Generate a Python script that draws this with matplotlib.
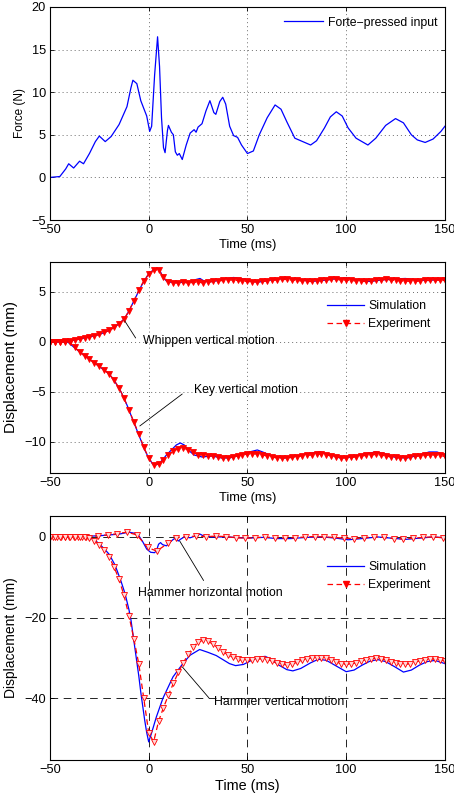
import numpy as np
import matplotlib
matplotlib.use("Agg")
import matplotlib.pyplot as plt

plt.rcParams['font.family'] = ['Liberation Sans', 'DejaVu Sans']
plt.rcParams['lines.scale_dashes'] = False

# ---- panel 1: input force ----
force_t = [-50, -45, -42, -40.5, -38, -35, -33, -30, -27, -25, -22, -19, -15, -11, -9, -8, -6, -4, -1,
           0.5, 1.5, 3, 4.5, 5.5, 6.5, 7.5, 8.3, 9.5, 10, 11.5, 12.5, 13.5, 14.5, 15.5, 17, 19, 21, 23,
           24, 25, 27, 29, 31, 33, 34, 36, 37.5, 39, 41, 43, 45, 47, 50, 53, 56, 60, 64, 67, 70, 74,
           78, 82, 85, 89, 92, 95, 98, 101, 105, 111, 115, 120, 125, 129, 133, 136, 140, 144, 148, 150]
force_val = [0, 0.1, 1.0, 1.6, 1.1, 1.9, 1.6, 2.8, 4.2, 4.85, 4.2, 4.8, 6.2, 8.3, 10.5, 11.4, 11.0, 9.0, 7.2,
             5.4, 6.0, 12, 16.5, 13, 7, 3.5, 2.9, 5.5, 6.1, 5.3, 5.0, 3, 2.6, 2.8, 2.1, 3.8, 5.2, 5.6,
             5.3, 5.9, 6.3, 7.8, 9.0, 7.6, 7.4, 8.9, 9.4, 8.6, 6.0, 4.9, 4.7, 3.8, 2.8, 3.1, 5.0, 7.0, 8.5, 8.0, 6.5, 4.6,
             4.2, 3.8, 4.3, 5.8, 7.1, 7.7, 7.2, 5.8, 4.6, 3.8, 4.6, 6.1, 6.9, 6.4, 5.0, 4.4, 4.1, 4.5, 5.4, 6.0]

# experiment sampling times (ms)
t_exp = np.arange(-50, 150.1, 2.5)

# ---- panel 2: whippen / key ----
whip_sim_t = [-50, -40, -30, -25, -20, -15, -12, -10, -8, -6, -4, -2, 0, 2, 4, 5, 6, 7, 8, 9, 10, 13, 16, 19,
              22, 24, 26, 28, 30, 34, 38, 43, 48, 52, 56, 62, 70, 76, 82, 88, 94, 100, 106, 112, 118, 124,
              130, 136, 142, 146, 150]
whip_sim = [0, 0.1, 0.5, 0.75, 1.15, 1.8, 2.4, 3.1, 3.9, 4.7, 5.5, 6.2, 6.8, 7.15, 7.35, 7.3, 7.0, 6.6, 6.3, 6.1,
            6.0, 5.95, 5.95, 6.0, 6.05, 6.25, 6.35, 6.1, 6.0, 6.1, 6.3, 6.45, 6.3, 6.05, 6.0, 6.2, 6.4, 6.25, 6.05,
            6.15, 6.3, 6.4, 6.2, 6.05, 6.2, 6.3, 6.35, 6.2, 6.15, 6.25, 6.3]
whip_exp = [0, 0, 0, 0.05, 0.1, 0.2, 0.3, 0.4, 0.5, 0.6,
            0.75, 0.95, 1.15, 1.45, 1.8, 2.3, 3.1, 4.1, 5.2, 6.1,
            6.8, 7.2, 7.2, 6.5, 6.0, 5.9, 5.9, 5.95, 5.9, 5.95,
            6.0, 5.9, 5.95, 6.05, 6.1, 6.15, 6.2, 6.2, 6.15, 6.1,
            6.05, 6.0, 6.0, 6.05, 6.1, 6.15, 6.2, 6.25, 6.25, 6.2,
            6.15, 6.1, 6.05, 6.05, 6.1, 6.15, 6.2, 6.25, 6.25, 6.2,
            6.2, 6.15, 6.1, 6.05, 6.05, 6.1, 6.15, 6.2, 6.25, 6.2,
            6.15, 6.1, 6.1, 6.05, 6.05, 6.1, 6.15, 6.15, 6.2, 6.15,
            6.15]

key_sim_t = [-50, -41, -38, -33, -28, -24, -20, -17, -14, -11, -8, -5, -2, 0, 2, 3.5, 5, 7, 9, 12, 14, 16, 18,
             20, 23, 27, 32, 37, 41, 46, 51, 55, 59, 63, 69, 75, 81, 87, 92, 97, 103, 109, 115, 120, 125, 131,
             137, 142, 146, 150]
key_sim = [0, 0, -0.5, -1.3, -2.0, -2.6, -3.2, -4.0, -5.0, -6.3, -7.8, -9.3, -10.8, -11.6, -12.2, -12.3, -12.2,
           -11.8, -11.3, -10.7, -10.3, -10.1, -10.3, -10.8, -11.3, -11.5, -11.4, -11.6, -11.6, -11.3, -11.0,
           -10.8, -11.1, -11.5, -11.6, -11.4, -11.15, -11.0, -11.3, -11.6, -11.5, -11.2, -11.0, -11.2, -11.55,
           -11.6, -11.3, -11.0, -11.0, -11.3]
key_exp = [0, 0, 0, 0, -0.05, -0.5, -1.0, -1.4, -1.75, -2.1,
           -2.45, -2.8, -3.2, -3.8, -4.6, -5.6, -6.8, -8.0, -9.2, -10.5,
           -11.6, -12.3, -12.2, -11.8, -11.3, -10.9, -10.7, -10.6, -10.8, -11.0,
           -11.3, -11.3, -11.4, -11.4, -11.5, -11.6, -11.6, -11.5, -11.4, -11.3,
           -11.2, -11.2, -11.2, -11.3, -11.4, -11.5, -11.6, -11.6, -11.6, -11.55,
           -11.5, -11.4, -11.35, -11.3, -11.25, -11.2, -11.3, -11.4, -11.5, -11.6,
           -11.6, -11.55, -11.5, -11.4, -11.35, -11.3, -11.25, -11.3, -11.4, -11.5,
           -11.55, -11.6, -11.6, -11.5, -11.45, -11.4, -11.35, -11.3, -11.3, -11.35,
           -11.45]

# ---- panel 3: hammer ----
hh_sim_t = [-50, -35, -25, -15, -10, -7, -5, -3, -1, 1, 3, 4, 5, 6, 7, 9, 11, 13, 14, 15, 16, 18, 21, 24, 26,
            28, 32, 40, 50, 58, 65, 72, 80, 88, 95, 101, 108, 116, 123, 130, 137, 144, 150]
hh_sim = [0, 0.1, 0.3, 0.7, 1.2, 0.9, 0.3, -1.2, -3.0, -3.8, -3.9, -3.3, -1.8, -1.4, -1.9, -2.2, -1.2, -0.4,
          -0.6, -1.0, -0.6, 0.0, -0.2, 0.3, 0.7, 0.2, 0.0, 0.0, -0.3, -0.1, -0.4, -0.4, -0.1, 0.0, -0.3, -0.7,
          -0.4, 0.0, -0.3, -0.6, -0.3, 0.0, -0.2]
hh_exp_t = [-50, -48.5, -46.5, -44.5, -42.5, -40.5, -38, -36, -34, -31.5, -25.5, -20.5, -16, -11, -6, -0.5,
            4, 10, 14, 19, 24, 29, 34, 39, 44, 49, 54, 59, 64, 69, 74, 79, 84, 89, 94, 99, 104, 109, 114,
            119, 124, 129, 134, 139, 144, 149]
hh_exp = [0, 0, 0, 0, 0, 0, 0, 0, 0, 0, 0.3, 0.5, 0.8, 1.2, 0.5, -2.6,
          -3.5, -1.5, -0.2, 0.1, 0.2, 0.1, 0.2, 0.1, -0.2, -0.3, -0.2, 0, -0.2, -0.3, -0.2, 0, 0.1, 0.0,
          -0.1, -0.3, -0.4, -0.2, 0, -0.1, -0.4, -0.5, -0.3, -0.1, 0, -0.2]

hv_sim_t = [-50, -32, -28, -25, -22, -20, -17, -14, -12, -10, -9, -8, -7, -6, -5, -4, -3, -2, -1, 0, 1.4,
            3.9, 7.2, 12.3, 17.3, 21, 25.8, 30, 34.2, 40.9, 44, 48, 52, 56, 59, 62, 66, 70, 73, 77, 82, 86,
            90, 95, 100, 104, 108, 112, 116, 120, 125, 129, 133, 137, 141, 145, 150]
hv_sim = [0, 0, -0.5, -1.7, -3.2, -4.3, -7.0, -11, -14, -18, -20.5, -24, -27.5, -31, -34.5, -38.5, -42, -45.5,
          -48.5, -50.8, -48.7, -44.6, -40, -34.7, -31.4, -29.3, -27.9, -28.6, -29.4, -31.4, -31.9, -31.6,
          -30.6, -29.8, -29.6, -30.3, -31.8, -32.9, -33.2, -32.6, -31.2, -30.3, -30.6, -32.0, -33.4, -33.0,
          -31.8, -30.8, -30.4, -30.9, -32.3, -33.5, -33.0, -31.8, -30.9, -30.6, -31.4]
hv_exp = [0, 0, 0, 0, 0, 0, 0, 0, -0.2, -0.9,
          -2.0, -3.3, -5.0, -7.5, -10.5, -14.5, -19.5, -25.3, -31.5, -40.0,
          -48.5, -50.8, -45.7, -42.3, -39.2, -36.3, -33.6, -31.2, -29.1, -27.3,
          -26.1, -25.6, -25.8, -26.6, -27.5, -28.4, -29.2, -29.8, -30.3, -30.6,
          -30.6, -30.5, -30.3, -30.2, -30.4, -30.8, -31.3, -31.6, -31.7, -31.5,
          -31.1, -30.6, -30.2, -30.0, -29.9, -29.9, -30.1, -30.5, -31.0, -31.4,
          -31.6, -31.5, -31.2, -30.8, -30.4, -30.2, -30.1, -30.2, -30.5, -30.9,
          -31.2, -31.5, -31.6, -31.4, -31.0, -30.7, -30.4, -30.3, -30.3, -30.5,
          -30.8]

BLUE = '#0000ff'
RED = '#ff0000'
EXP_DASH = (0, (4, 2.5))
TXT = 8.8


def style_axes(ax, grid_ls, grid_color, xlabel_size):
    ax.set_xlim(-50, 150)
    ax.set_xticks([-50, 0, 50, 100, 150])
    ax.tick_params(direction='in', top=True, right=True, length=3, width=0.6, labelsize=9.2, pad=3)
    ax.grid(True, linestyle=grid_ls, color=grid_color, linewidth=0.6)
    for s in ax.spines.values():
        s.set_linewidth(0.8)
    ax.set_xlabel("Time (ms)", fontsize=xlabel_size, labelpad=2)


def exp_line(ax, t, y, mfc):
    ax.plot(t, y, color=RED, linestyle=EXP_DASH, linewidth=0.9, marker='v', markersize=4,
            markerfacecolor=mfc, markeredgecolor=RED, markeredgewidth=0.6)


def annotate(ax, xy, xytext, label, label_xy):
    ax.annotate('', xy=xy, xytext=xytext,
                arrowprops=dict(arrowstyle='-', color='k', lw=0.6, shrinkA=0, shrinkB=0))
    ax.text(label_xy[0], label_xy[1], label, fontsize=TXT, ha='left', va='center')


fig = plt.figure(figsize=(4.54, 7.98), dpi=100)
ax1 = fig.add_axes([0.110, 0.7243, 0.870, 0.2670])
ax2 = fig.add_axes([0.110, 0.4073, 0.870, 0.2644])
ax3 = fig.add_axes([0.110, 0.0476, 0.870, 0.3058])

# panel 1
ax1.plot(force_t, force_val, color=BLUE, linewidth=0.9, label="Forte\u2212pressed input")
style_axes(ax1, (0, (0.7, 2.2)), '#555555', 9.3)
ax1.set_ylim(-5, 20)
ax1.set_yticks([-5, 0, 5, 10, 15, 20])
ax1.set_ylabel("Force (N)", fontsize=8.5)
ax1.legend(loc='upper left', bbox_to_anchor=(0.593, 0.955), frameon=False, fontsize=TXT,
           handlelength=3.2, handletextpad=0.35, borderpad=0, borderaxespad=0)

# panel 2
ax2.plot(whip_sim_t, whip_sim, color=BLUE, linewidth=0.9, label="Simulation")
ax2.plot(key_sim_t, key_sim, color=BLUE, linewidth=0.9)
exp_line(ax2, t_exp, whip_exp, RED)
exp_line(ax2, t_exp, key_exp, RED)
style_axes(ax2, (0, (0.7, 2.2)), '#555555', 9.3)
ax2.set_ylim(-13.1, 8)
ax2.set_yticks([-10, -5, 0, 5])
ax2.set_ylabel("Displacement (mm)", fontsize=11)
annotate(ax2, (-12.1, 2.1), (-6.6, 0.4), "Whippen vertical motion", (-2.9, 0.13))
annotate(ax2, (-4.5, -8.4), (17, -5.2), "Key vertical motion", (22.7, -4.8))
h_sim = plt.Line2D([], [], color=BLUE, linewidth=0.9)
h_exp2 = plt.Line2D([], [], color=RED, linestyle=EXP_DASH, linewidth=0.9, marker='v', markersize=4,
                    markerfacecolor=RED, markeredgecolor=RED)
ax2.legend([h_sim, h_exp2], ["Simulation", "Experiment"], loc='upper left', bbox_to_anchor=(0.702, 0.82),
           frameon=False, fontsize=TXT, handlelength=3.0, handletextpad=0.35, borderpad=0,
           borderaxespad=0, numpoints=1)

# panel 3
ax3.plot(hh_sim_t, hh_sim, color=BLUE, linewidth=0.9)
ax3.plot(hv_sim_t, hv_sim, color=BLUE, linewidth=0.9)
exp_line(ax3, hh_exp_t, hh_exp, '#ffd8d8')
exp_line(ax3, t_exp, hv_exp, '#ffd8d8')
style_axes(ax3, (0, (5.5, 4)), 'k', 10.4)
ax3.set_ylim(-55.3, 5.2)
ax3.set_yticks([-40, -20, 0])
ax3.set_ylabel("Displacement (mm)", fontsize=10)
annotate(ax3, (15.7, -1.0), (27.8, -10.8), "Hammer horizontal motion", (-5.4, -13.9))
annotate(ax3, (17, -32.2), (30.5, -39.9), "Hammer vertical motion", (33.3, -40.8))
ax3.legend([h_sim, h_exp2], ["Simulation", "Experiment"], loc='upper left', bbox_to_anchor=(0.702, 0.815),
           frameon=False, fontsize=TXT, handlelength=3.0, handletextpad=0.35, borderpad=0,
           borderaxespad=0, numpoints=1)

fig.savefig("out.png", dpi=100)
